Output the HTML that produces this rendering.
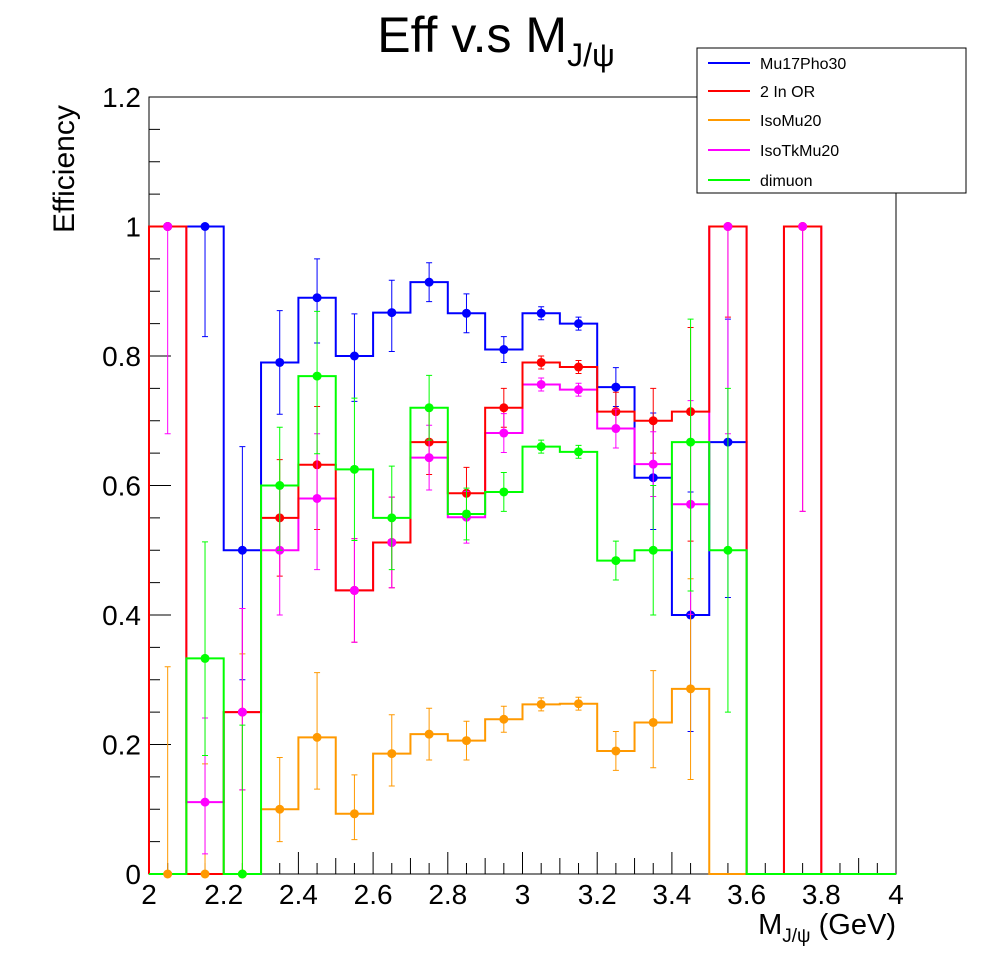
<!DOCTYPE html>
<html><head><meta charset="utf-8"><style>
body{margin:0;background:#fff;}
svg{display:block;font-family:"Liberation Sans",sans-serif;}
</style></head><body>
<svg id="c" width="996" height="972"></svg>
<script>
const binEdgesStart = 2.0;
const binWidth = 0.1;
const seriesNames = ["Mu17Pho30","2 In OR","IsoMu20","IsoTkMu20","dimuon"];
const seriesColors = ["#0000ff","#ff0000","#ff9900","#ff00ff","#00ff00"];
const blueVals = [1,1,0.5,0.79,0.89,0.8,0.867,0.914,0.866,0.81,0.866,0.85,0.752,0.612,0.4,0.667,0,0,0,0];
const blueLo   = [0,0.17,0.2,0.08,0.07,0.07,0.06,0.03,0.03,0.02,0.01,0.01,0.03,0.08,0.18,0.24,0,0,0,0];
const blueHi   = [0,0,0.16,0.08,0.06,0.065,0.05,0.03,0.03,0.02,0.01,0.01,0.03,0.1,0.19,0.19,0,0,0,0];
const redVals = [1,0,0.25,0.55,0.632,0.438,0.512,0.667,0.588,0.72,0.79,0.783,0.714,0.7,0.714,1,0,1,0,0];
const redLo   = [0,0,0.12,0.09,0.1,0.08,0.07,0.05,0.04,0.03,0.01,0.01,0.03,0.05,0.2,0.14,0,0.44,0,0];
const redHi   = [0,0,0.16,0.09,0.09,0.08,0.07,0.05,0.04,0.03,0.01,0.01,0.03,0.05,0.13,0,0,0,0,0];
const orangeVals = [0,0,0,0.1,0.211,0.093,0.186,0.216,0.206,0.239,0.262,0.263,0.19,0.234,0.286,0,0,0,0,0];
const orangeLo   = [0,0,0,0.05,0.08,0.04,0.05,0.04,0.03,0.02,0.01,0.01,0.03,0.07,0.14,0,0,0,0,0];
const orangeHi   = [0.32,0.17,0.34,0.08,0.1,0.06,0.06,0.04,0.03,0.02,0.01,0.01,0.03,0.08,0.17,0,0,0,0,0];
const magentaVals = [1,0.111,0.25,0.5,0.58,0.438,0.512,0.643,0.551,0.681,0.756,0.748,0.688,0.633,0.571,1,0,1,0,0];
const magentaLo   = [0.32,0.08,0.12,0.1,0.11,0.08,0.07,0.05,0.04,0.03,0.01,0.01,0.03,0.05,0.17,0.32,0,0.44,0,0];
const magentaHi   = [0,0.13,0.16,0.1,0.1,0.08,0.07,0.05,0.04,0.03,0.01,0.01,0.03,0.05,0.16,0,0,0,0,0];
const greenVals = [0,0.333,0,0.6,0.769,0.625,0.55,0.72,0.556,0.59,0.66,0.652,0.484,0.5,0.667,0.5,0,0,0,0];
const greenLo   = [0,0.15,0,0.1,0.12,0.11,0.08,0.05,0.04,0.03,0.01,0.01,0.03,0.1,0.23,0.25,0,0,0,0];
const greenHi   = [0,0.18,0.23,0.09,0.1,0.11,0.08,0.05,0.04,0.03,0.01,0.01,0.03,0.1,0.19,0.25,0,0,0,0];
const xTicks = ["2","2.2","2.4","2.6","2.8","3","3.2","3.4","3.6","3.8","4"];
const yTicks = ["0","0.2","0.4","0.6","0.8","1","1.2"];

const NS="http://www.w3.org/2000/svg";
const svg=document.getElementById('c');
const X0=149,X1=896,Y0=874,Y1=97,xmin=2,xmax=4,ymax=1.2;
const xs=v=>X0+(v-xmin)/(xmax-xmin)*(X1-X0);
const ys=v=>Y0-v/ymax*(Y0-Y1);
function mk(tag,attrs,parent){const e=document.createElementNS(NS,tag);for(const k in attrs)e.setAttribute(k,attrs[k]);(parent||svg).appendChild(e);return e;}

const frame=mk('rect',{x:X0,y:Y1,width:X1-X0,height:Y0-Y1,fill:'none',stroke:'#000','stroke-width':1});



const tg=mk('g',{stroke:'#000','stroke-width':1});


for(let i=0;i<=40;i++){const v=xmin+i*0.05;const len=i%4==0?22:(i%2==0?16:11);mk('line',{x1:xs(v),x2:xs(v),y1:Y0,y2:Y0-len},tg);}
for(let i=0;i<=24;i++){const v=i*0.05;const len=i%4==0?22:11;mk('line',{x1:X0,x2:X0+len,y1:ys(v),y2:ys(v)},tg);}
xTicks.forEach(t=>{const e=mk('text',{x:xs(parseFloat(t)),y:904,'font-size':28,'text-anchor':'middle'});e.textContent=t;

});
yTicks.forEach(t=>{const e=mk('text',{x:141,y:ys(parseFloat(t))+10,'font-size':28,'text-anchor':'end'});e.textContent=t;

});

const allVals=[blueVals,redVals,orangeVals,magentaVals,greenVals];
const allLo=[blueLo,redLo,orangeLo,magentaLo,greenLo];
const allHi=[blueHi,redHi,orangeHi,magentaHi,greenHi];
const keys=['blue','red','orange','magenta','green'];
const groups={};
[0,2,3,1,4].forEach(s=>{
  const vals=allVals[s];
  const g=mk('g',{});
  
  
  let d='';
  vals.forEach((v,i)=>{const a=xs(binEdgesStart+i*binWidth),b=xs(binEdgesStart+(i+1)*binWidth);
    d+=(i==0?'M'+a+' '+ys(0)+' L'+a+' '+ys(v):' L'+a+' '+ys(v))+' L'+b+' '+ys(v);});
  d+=' L'+X1+' '+ys(0);
  const p=mk('path',{d:d,fill:'none',stroke:seriesColors[s],'stroke-width':2},g);
  
  
});
[0,1,2,3,4].forEach(s=>{
  const vals=allVals[s];
  const col=seriesColors[s];
  const g=mk('g',{});
  
  
  vals.forEach((v,i)=>{
    const lo=allLo[s][i],hi=allHi[s][i];
    const cx=xs(binEdgesStart+(i+0.5)*binWidth);
    if(v===0&&hi===0&&!(s===2&&i<=1))return;
    if(lo>0||hi>0){
      const eb=mk('path',{d:`M${cx} ${ys(v-lo)} L${cx} ${ys(v+hi)} M${cx-3} ${ys(v-lo)} L${cx+3} ${ys(v-lo)} M${cx-3} ${ys(v+hi)} L${cx+3} ${ys(v+hi)}`,stroke:col,'stroke-width':1,fill:'none'},g);
      
      
    }
    const c=mk('circle',{cx:cx,cy:ys(v),r:4.5,fill:col},g);
    
    
  });
});
</script>
<svg style="position:absolute;left:0;top:0" width="996" height="972">
<text x="496" y="52" font-size="50" text-anchor="middle" font-family="Liberation Sans,sans-serif">Eff v.s M<tspan font-size="32" dy="14">J/ψ</tspan></text>
<text transform="translate(74,233) rotate(-90)" font-size="30" font-family="Liberation Sans,sans-serif">Efficiency</text>
<text x="896" y="934" font-size="29" text-anchor="end" font-family="Liberation Sans,sans-serif">M<tspan font-size="19" dy="8">J/ψ</tspan><tspan dy="-8"> (GeV)</tspan></text>
<g font-family="Liberation Sans,sans-serif" font-size="16">
<rect x="697" y="48" width="269" height="145" fill="#fff" stroke="#000"/>
<g><line x1="708" x2="750" y1="63" y2="63" stroke="#0000ff" stroke-width="2"/><text x="760" y="69">Mu17Pho30</text></g>
<g><line x1="708" x2="750" y1="91" y2="91" stroke="#ff0000" stroke-width="2"/><text x="760" y="97">2 In OR</text></g>
<g><line x1="708" x2="750" y1="120" y2="120" stroke="#ff9900" stroke-width="2"/><text x="760" y="126">IsoMu20</text></g>
<g><line x1="708" x2="750" y1="150" y2="150" stroke="#ff00ff" stroke-width="2"/><text x="760" y="156">IsoTkMu20</text></g>
<g><line x1="708" x2="750" y1="180" y2="180" stroke="#00ff00" stroke-width="2"/><text x="760" y="186">dimuon</text></g>
</g>
</svg>
</body></html>
